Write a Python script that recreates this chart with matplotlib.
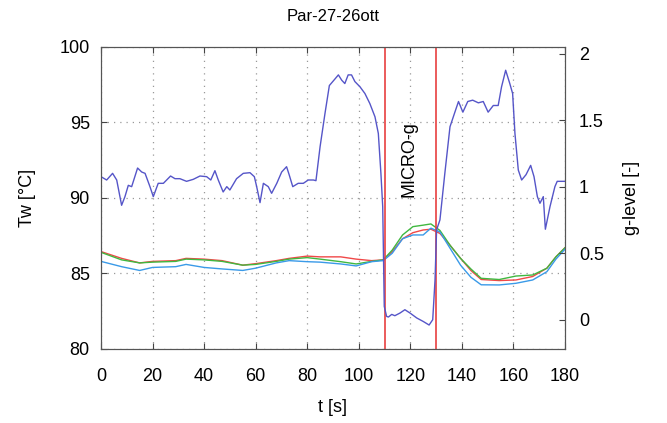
import matplotlib.pyplot as plt

# g-level trace (right axis)
t_g = [0, 2.2, 4.5, 6.1, 8.0, 9.3, 10.6, 11.9, 14.2, 15.8, 17.1, 19.0, 20.3, 22.2, 24.2,
       27.0, 28.7, 30.6, 33.2, 35.8, 38.4, 41.0, 42.6, 44.2, 45.5, 47.4, 48.8, 50.0,
       52.6, 55.2, 57.8, 59.5, 60.4, 61.7, 63.0, 64.9, 66.2, 68.2, 70.1, 72.0, 73.0,
       74.4, 76.5, 78.5, 80.4, 82.4, 83.4, 85.0, 86.9, 88.6, 90.8, 92.1, 93.4, 94.6,
       95.9, 97.2, 98.5, 100.5, 102.4, 104.3, 106.3, 107.6, 108.6, 109.3, 109.9,
       110.8, 111.5, 112.8, 114.0, 116.0, 117.9, 119.9, 122.5, 125.0, 127.3, 128.7,
       129.6, 130.2, 131.5, 133.4, 135.4, 137.3, 138.7, 140.4, 142.3, 144.2, 146.4,
       148.3, 150.2, 152.2, 154.1, 155.4, 157.0, 158.6, 159.7, 160.6, 161.9, 163.2,
       164.9, 166.7, 168.0, 169.3, 170.3, 171.6, 172.4, 174.2, 176.1, 177.0, 178.7, 180.0]
g_level = [1.075, 1.05, 1.10, 1.05, 0.86, 0.925, 1.01, 1.0, 1.14, 1.11, 1.10, 1.0, 0.925,
           1.025, 1.025, 1.08, 1.06, 1.06, 1.04, 1.055, 1.08, 1.075, 1.05, 1.12, 1.05,
           0.96, 1.0, 0.975, 1.06, 1.10, 1.105, 1.075, 1.0, 0.88, 1.025, 1.0, 0.95,
           1.025, 1.11, 1.15, 1.09, 1.0, 1.025, 1.025, 1.05, 1.05, 1.045, 1.30, 1.55,
           1.76, 1.81, 1.84, 1.80, 1.775, 1.84, 1.84, 1.79, 1.75, 1.70, 1.625, 1.525,
           1.40, 1.10, 0.85, 0.10, 0.025, 0.02, 0.04, 0.03, 0.05, 0.075, 0.05, 0.013,
           -0.013, -0.04, 0.0, 0.30, 0.675, 0.75, 1.10, 1.45, 1.56, 1.64, 1.56, 1.64,
           1.65, 1.63, 1.64, 1.56, 1.61, 1.61, 1.75, 1.875, 1.775, 1.70, 1.40, 1.125,
           1.05, 1.09, 1.16, 1.075, 0.925, 0.875, 0.925, 0.68, 0.85, 1.0, 1.04, 1.04, 1.04]

# wall temperatures (left axis)
t_T = [0, 8, 15, 20, 29, 33, 40, 47, 55, 60, 68, 73, 80, 85, 93, 99, 105, 109.5, 113,
       117, 121, 125, 128, 131.5, 135.5, 139.5, 143.5, 147.5, 154.5, 161, 167.5, 173,
       176.5, 180]
T_red = [86.45, 86.0, 85.7, 85.8, 85.85, 86.0, 85.95, 85.85, 85.55, 85.65, 85.85, 86.0,
         86.15, 86.1, 86.1, 85.95, 85.85, 85.9, 86.45, 87.3, 87.7, 87.88, 87.93, 87.65,
         86.85, 86.0, 85.2, 84.6, 84.53, 84.57, 84.8, 85.35, 86.1, 86.7]
T_green = [86.4, 85.9, 85.7, 85.75, 85.8, 85.95, 85.9, 85.8, 85.55, 85.6, 85.8, 85.95,
           86.05, 85.95, 85.78, 85.63, 85.8, 85.9, 86.55, 87.55, 88.1, 88.2, 88.28, 87.85,
           86.85, 86.0, 85.3, 84.68, 84.6, 84.83, 84.9, 85.35, 86.1, 86.7]
T_blue = [85.8, 85.45, 85.2, 85.4, 85.45, 85.6, 85.4, 85.3, 85.2, 85.35, 85.7, 85.85,
          85.78, 85.75, 85.63, 85.5, 85.78, 85.85, 86.34, 87.3, 87.55, 87.55, 88.0, 87.75,
          86.65, 85.55, 84.75, 84.25, 84.24, 84.35, 84.57, 85.12, 85.95, 86.6]

micro_g_start = 110
micro_g_end = 130

plt.rcParams['font.family'] = ['Liberation Sans', 'DejaVu Sans']

fig = plt.figure(figsize=(6.67, 4.23), dpi=100)
ax = fig.add_axes([0.1514, 0.175, 0.6956, 0.714])

ax.plot(t_T, T_red, color='#f04848', lw=1.0)
ax.plot(t_T, T_green, color='#40b840', lw=1.0)
ax.plot(t_T, T_blue, color='#3a9ae8', lw=1.0)
ax.axvline(micro_g_start, color='#e84040', lw=1.2)
ax.axvline(micro_g_end, color='#e84040', lw=1.2)

ax.set_xlim(0, 180)
ax.set_ylim(80, 100)
ax.set_xticks(range(0, 181, 20))
ax.set_yticks([80, 85, 90, 95, 100])
ax.grid(True, linestyle=(0, (1, 4)), color='#999999', lw=0.9)
ax.tick_params(direction='in', labelsize=13, top=True, length=4, color='#444444')
ax.tick_params(axis='x', pad=14)
ax.tick_params(axis='y', pad=8)
ax.set_xlabel('t [s]', fontsize=13, labelpad=10)
ax.set_ylabel('Tw [°C]', fontsize=13, labelpad=17)
ax.set_title('Par-27-26ott', fontsize=12, pad=19)
for s in ax.spines.values():
    s.set_color('#555555')

ax.text(119.5, 92.6, 'MICRO-g', rotation=90, ha='center', va='center', fontsize=13)

ax2 = ax.twinx()
ax2.plot(t_g, g_level, color='#5555c8', lw=1.0)
ax2.set_ylim(-0.22, 2.05)
ax2.set_yticks([0, 0.5, 1, 1.5, 2])
ax2.set_yticklabels(['0', '0.5', '1', '1.5', '2'])
ax2.tick_params(direction='in', labelsize=13, length=4, color='#444444', pad=10)
ax2.set_ylabel('g-level [-]', fontsize=13, labelpad=14)
for s in ax2.spines.values():
    s.set_color('#555555')

fig.savefig('out.png', dpi=100)
